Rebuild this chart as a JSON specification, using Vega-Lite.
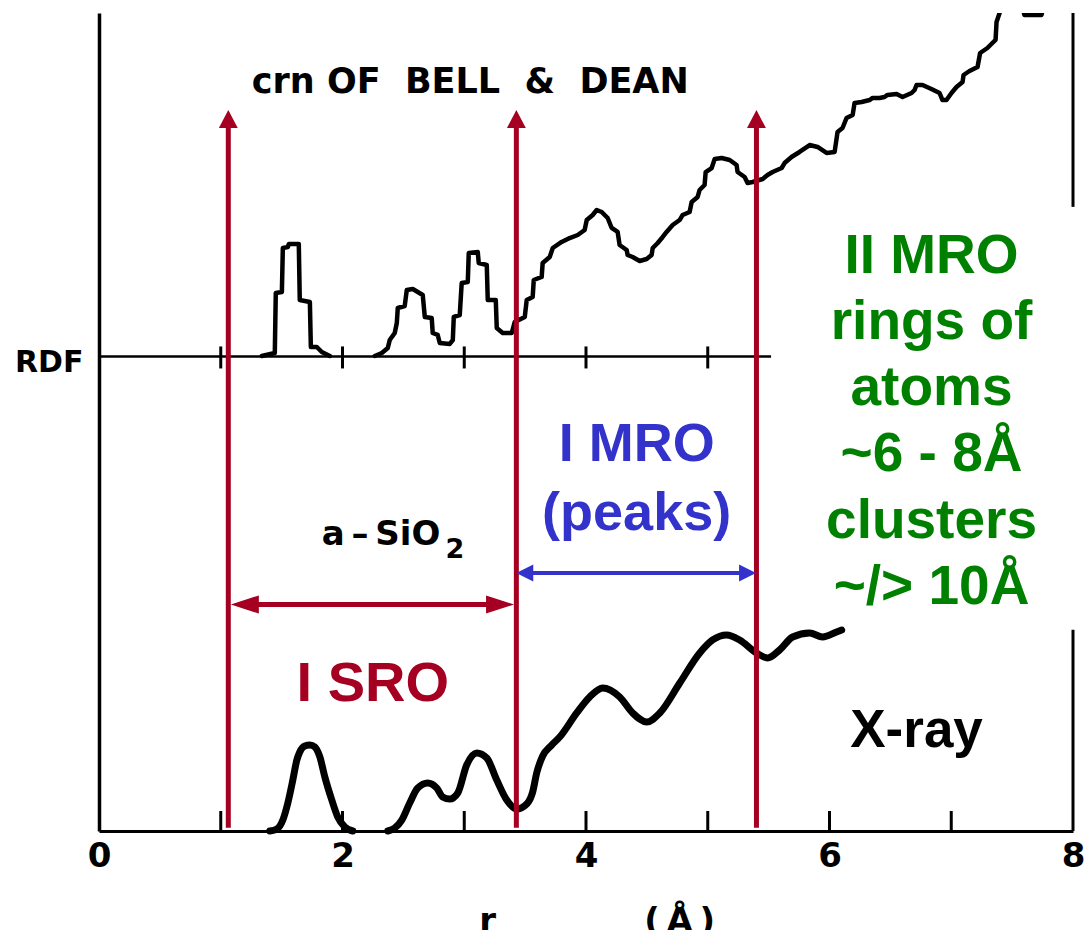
{
  "$schema": "https://vega.github.io/schema/vega-lite/v6.json",
  "width": 974,
  "height": 818,
  "autosize": "none",
  "padding": {"left": 99, "top": 13, "right": 13, "bottom": 99},
  "background": "white",
  "config": {"view": {"stroke": null}},
  "datasets": {
    "xray": [
      {"s": "a", "r": 1.403, "v": 0}, {"s": "a", "r": 1.461, "v": 0.24}, {"s": "a", "r": 1.510, "v": 1.34},
      {"s": "a", "r": 1.551, "v": 3.42}, {"s": "a", "r": 1.592, "v": 6.23}, {"s": "a", "r": 1.625, "v": 8.68},
      {"s": "a", "r": 1.649, "v": 9.66}, {"s": "a", "r": 1.690, "v": 10.39}, {"s": "a", "r": 1.732, "v": 10.51},
      {"s": "a", "r": 1.773, "v": 10.27}, {"s": "a", "r": 1.814, "v": 9.05}, {"s": "a", "r": 1.855, "v": 6.60},
      {"s": "a", "r": 1.912, "v": 3.79}, {"s": "a", "r": 1.961, "v": 1.71}, {"s": "a", "r": 2.019, "v": 0.49},
      {"s": "a", "r": 2.085, "v": 0},
      {"s": "b", "r": 2.372, "v": 0}, {"s": "b", "r": 2.429, "v": 0.37}, {"s": "b", "r": 2.487, "v": 1.34},
      {"s": "b", "r": 2.552, "v": 3.42}, {"s": "b", "r": 2.618, "v": 5.26}, {"s": "b", "r": 2.700, "v": 5.87},
      {"s": "b", "r": 2.774, "v": 5.26}, {"s": "b", "r": 2.823, "v": 4.16}, {"s": "b", "r": 2.881, "v": 3.91},
      {"s": "b", "r": 2.947, "v": 4.65}, {"s": "b", "r": 3.020, "v": 8.07}, {"s": "b", "r": 3.103, "v": 9.54},
      {"s": "b", "r": 3.185, "v": 8.92}, {"s": "b", "r": 3.267, "v": 6.23}, {"s": "b", "r": 3.349, "v": 3.79},
      {"s": "b", "r": 3.431, "v": 2.69}, {"s": "b", "r": 3.513, "v": 3.30}, {"s": "b", "r": 3.562, "v": 4.77},
      {"s": "b", "r": 3.595, "v": 7.09}, {"s": "b", "r": 3.644, "v": 9.17}, {"s": "b", "r": 3.718, "v": 10.51},
      {"s": "b", "r": 3.784, "v": 11.49}, {"s": "b", "r": 3.924, "v": 14.43}, {"s": "b", "r": 4.030, "v": 16.38},
      {"s": "b", "r": 4.137, "v": 17.48}, {"s": "b", "r": 4.277, "v": 16.38}, {"s": "b", "r": 4.383, "v": 14.43},
      {"s": "b", "r": 4.499, "v": 13.33}, {"s": "b", "r": 4.606, "v": 14.43}, {"s": "b", "r": 4.770, "v": 18.09},
      {"s": "b", "r": 4.934, "v": 21.76}, {"s": "b", "r": 5.040, "v": 23.35}, {"s": "b", "r": 5.155, "v": 23.96},
      {"s": "b", "r": 5.262, "v": 23.35}, {"s": "b", "r": 5.401, "v": 21.76}, {"s": "b", "r": 5.492, "v": 21.15},
      {"s": "b", "r": 5.590, "v": 22.13}, {"s": "b", "r": 5.697, "v": 23.72}, {"s": "b", "r": 5.837, "v": 24.21},
      {"s": "b", "r": 5.943, "v": 23.72}, {"s": "b", "r": 6.058, "v": 24.33}, {"s": "b", "r": 6.100, "v": 24.57}
    ],
    "rdf": [
      {"s": "a", "r": 1.337, "v": 58.07}, {"s": "a", "r": 1.444, "v": 58.44}, {"s": "a", "r": 1.452, "v": 65.77},
      {"s": "a", "r": 1.502, "v": 65.89}, {"s": "a", "r": 1.510, "v": 71.27}, {"s": "a", "r": 1.551, "v": 71.39},
      {"s": "a", "r": 1.559, "v": 71.76}, {"s": "a", "r": 1.641, "v": 71.76}, {"s": "a", "r": 1.649, "v": 64.91},
      {"s": "a", "r": 1.732, "v": 64.67}, {"s": "a", "r": 1.740, "v": 59.17}, {"s": "a", "r": 1.789, "v": 59.17},
      {"s": "a", "r": 1.830, "v": 58.56}, {"s": "a", "r": 1.896, "v": 58.07},
      {"s": "b", "r": 2.265, "v": 58.07}, {"s": "b", "r": 2.323, "v": 58.44}, {"s": "b", "r": 2.372, "v": 59.05},
      {"s": "b", "r": 2.388, "v": 60.02}, {"s": "b", "r": 2.429, "v": 60.88}, {"s": "b", "r": 2.446, "v": 62.10},
      {"s": "b", "r": 2.454, "v": 63.94}, {"s": "b", "r": 2.511, "v": 64.18}, {"s": "b", "r": 2.528, "v": 66.14},
      {"s": "b", "r": 2.577, "v": 66.26}, {"s": "b", "r": 2.618, "v": 65.89}, {"s": "b", "r": 2.659, "v": 65.53},
      {"s": "b", "r": 2.676, "v": 62.84}, {"s": "b", "r": 2.733, "v": 62.71}, {"s": "b", "r": 2.741, "v": 60.88},
      {"s": "b", "r": 2.782, "v": 60.64}, {"s": "b", "r": 2.799, "v": 59.66}, {"s": "b", "r": 2.881, "v": 59.54},
      {"s": "b", "r": 2.906, "v": 60.02}, {"s": "b", "r": 2.914, "v": 62.84}, {"s": "b", "r": 2.963, "v": 63.08},
      {"s": "b", "r": 2.979, "v": 66.99}, {"s": "b", "r": 3.029, "v": 67.12}, {"s": "b", "r": 3.037, "v": 70.66},
      {"s": "b", "r": 3.111, "v": 70.78}, {"s": "b", "r": 3.119, "v": 69.44}, {"s": "b", "r": 3.185, "v": 69.19},
      {"s": "b", "r": 3.193, "v": 64.91}, {"s": "b", "r": 3.259, "v": 64.91}, {"s": "b", "r": 3.267, "v": 61.49},
      {"s": "b", "r": 3.316, "v": 60.88}, {"s": "b", "r": 3.390, "v": 60.88}, {"s": "b", "r": 3.415, "v": 62.23},
      {"s": "b", "r": 3.497, "v": 62.84}, {"s": "b", "r": 3.513, "v": 64.91}, {"s": "b", "r": 3.562, "v": 65.28},
      {"s": "b", "r": 3.571, "v": 67.36}, {"s": "b", "r": 3.636, "v": 67.73}, {"s": "b", "r": 3.644, "v": 69.44},
      {"s": "b", "r": 3.702, "v": 70.17}, {"s": "b", "r": 3.727, "v": 71.27}, {"s": "b", "r": 3.800, "v": 72.01},
      {"s": "b", "r": 3.866, "v": 72.49}, {"s": "b", "r": 3.932, "v": 72.86}, {"s": "b", "r": 3.989, "v": 73.47},
      {"s": "b", "r": 4.006, "v": 74.69}, {"s": "b", "r": 4.055, "v": 75.31}, {"s": "b", "r": 4.088, "v": 75.92},
      {"s": "b", "r": 4.129, "v": 75.67}, {"s": "b", "r": 4.178, "v": 74.94}, {"s": "b", "r": 4.211, "v": 73.72},
      {"s": "b", "r": 4.260, "v": 73.23}, {"s": "b", "r": 4.276, "v": 71.64}, {"s": "b", "r": 4.334, "v": 71.03},
      {"s": "b", "r": 4.342, "v": 70.42}, {"s": "b", "r": 4.383, "v": 70.17}, {"s": "b", "r": 4.441, "v": 69.68},
      {"s": "b", "r": 4.498, "v": 69.93}, {"s": "b", "r": 4.539, "v": 70.42}, {"s": "b", "r": 4.548, "v": 71.27},
      {"s": "b", "r": 4.589, "v": 71.88}, {"s": "b", "r": 4.630, "v": 72.62}, {"s": "b", "r": 4.662, "v": 73.23},
      {"s": "b", "r": 4.712, "v": 74.08}, {"s": "b", "r": 4.769, "v": 74.69}, {"s": "b", "r": 4.794, "v": 75.31},
      {"s": "b", "r": 4.851, "v": 75.67}, {"s": "b", "r": 4.868, "v": 76.90}, {"s": "b", "r": 4.917, "v": 77.51},
      {"s": "b", "r": 4.933, "v": 78.36}, {"s": "b", "r": 4.974, "v": 78.97}, {"s": "b", "r": 4.983, "v": 80.56},
      {"s": "b", "r": 5.032, "v": 81.05}, {"s": "b", "r": 5.057, "v": 82.15}, {"s": "b", "r": 5.114, "v": 82.27},
      {"s": "b", "r": 5.180, "v": 82.03}, {"s": "b", "r": 5.237, "v": 81.42}, {"s": "b", "r": 5.245, "v": 80.56},
      {"s": "b", "r": 5.303, "v": 79.95}, {"s": "b", "r": 5.327, "v": 79.22}, {"s": "b", "r": 5.369, "v": 79.34},
      {"s": "b", "r": 5.451, "v": 79.71}, {"s": "b", "r": 5.491, "v": 80.20}, {"s": "b", "r": 5.533, "v": 80.56},
      {"s": "b", "r": 5.607, "v": 81.05}, {"s": "b", "r": 5.631, "v": 81.66}, {"s": "b", "r": 5.688, "v": 82.40},
      {"s": "b", "r": 5.754, "v": 83.01}, {"s": "b", "r": 5.837, "v": 83.86}, {"s": "b", "r": 5.902, "v": 83.62},
      {"s": "b", "r": 5.976, "v": 82.89}, {"s": "b", "r": 6.042, "v": 83.01}, {"s": "b", "r": 6.066, "v": 85.45},
      {"s": "b", "r": 6.107, "v": 85.94}, {"s": "b", "r": 6.140, "v": 87.16}, {"s": "b", "r": 6.190, "v": 87.53},
      {"s": "b", "r": 6.206, "v": 89.00}, {"s": "b", "r": 6.264, "v": 89.12}, {"s": "b", "r": 6.329, "v": 89.36},
      {"s": "b", "r": 6.354, "v": 89.61}, {"s": "b", "r": 6.411, "v": 89.61}, {"s": "b", "r": 6.452, "v": 89.73},
      {"s": "b", "r": 6.476, "v": 89.98}, {"s": "b", "r": 6.551, "v": 90.10}, {"s": "b", "r": 6.600, "v": 89.73},
      {"s": "b", "r": 6.674, "v": 90.22}, {"s": "b", "r": 6.699, "v": 90.59}, {"s": "b", "r": 6.715, "v": 91.20},
      {"s": "b", "r": 6.764, "v": 91.20}, {"s": "b", "r": 6.837, "v": 90.71}, {"s": "b", "r": 6.904, "v": 90.22},
      {"s": "b", "r": 6.928, "v": 89.36}, {"s": "b", "r": 6.961, "v": 89.36}, {"s": "b", "r": 7.002, "v": 90.22},
      {"s": "b", "r": 7.043, "v": 90.95}, {"s": "b", "r": 7.093, "v": 91.57}, {"s": "b", "r": 7.101, "v": 92.42},
      {"s": "b", "r": 7.150, "v": 92.91}, {"s": "b", "r": 7.216, "v": 93.40}, {"s": "b", "r": 7.237, "v": 95.11},
      {"s": "b", "r": 7.297, "v": 95.72}, {"s": "b", "r": 7.338, "v": 96.33}, {"s": "b", "r": 7.364, "v": 96.70},
      {"s": "b", "r": 7.372, "v": 98.90}, {"s": "b", "r": 7.397, "v": 100.0}, {"s": "b", "r": 7.462, "v": 102.8},
      {"s": "b", "r": 7.531, "v": 104.0}, {"s": "b", "r": 7.601, "v": 99.76}, {"s": "b", "r": 7.741, "v": 99.76},
      {"s": "b", "r": 7.809, "v": 104.0}
    ]
  },
  "encoding": {
    "x": {
      "field": "r", "type": "quantitative",
      "scale": {"domain": [0, 8], "nice": false, "zero": false},
      "axis": {"values": [0, 2, 4, 6, 8], "format": "d", "title": null, "grid": false, "ticks": false,
               "domain": true, "domainColor": "black", "domainWidth": 3,
               "labelFont": "DejaVu Sans", "labelFontWeight": "bold", "labelFontSize": 34, "labelColor": "black",
               "labelPadding": 8, "labelFlush": false, "labelOverlap": false, "labelBound": false}
    },
    "y": {
      "field": "v", "type": "quantitative",
      "scale": {"domain": [0, 100], "nice": false, "zero": false},
      "axis": {"title": null, "grid": false, "ticks": false, "labels": false,
               "domain": true, "domainColor": "black", "domainWidth": 3.5}
    }
  },
  "layer": [
    {
      "data": {"name": "xray"},
      "mark": {"type": "line", "color": "black", "strokeWidth": 7, "interpolate": "monotone", "strokeCap": "round", "strokeJoin": "round"},
      "encoding": {"detail": {"field": "s"}}
    },
    {
      "data": {"values": [{"r": 0, "r2": 5.52, "v": 58.0}]},
      "mark": {"type": "rule", "color": "black", "strokeWidth": 2.5},
      "encoding": {"x2": {"field": "r2"}}
    },
    {
      "data": {"values": [{"r": 1, "v": 57.89}, {"r": 2, "v": 57.89}, {"r": 3, "v": 57.89}, {"r": 4, "v": 57.89}, {"r": 5, "v": 57.89}]},
      "mark": {"type": "tick", "orient": "vertical", "size": 22, "thickness": 3, "color": "black", "opacity": 1}
    },
    {
      "data": {"values": [{"r": 1, "v": 1.22}, {"r": 2, "v": 1.22}, {"r": 3, "v": 1.22}, {"r": 4, "v": 1.22}, {"r": 5, "v": 1.22}, {"r": 6, "v": 1.22}, {"r": 7, "v": 1.22}]},
      "mark": {"type": "tick", "orient": "vertical", "size": 20, "thickness": 3, "color": "black", "opacity": 1}
    },
    {
      "data": {"values": [{"r": 8, "v": 0, "v2": 24.6}, {"r": 8, "v": 76.3, "v2": 100}]},
      "mark": {"type": "rule", "color": "black", "strokeWidth": 3},
      "encoding": {"y2": {"field": "v2"}}
    },
    {
      "data": {"name": "rdf"},
      "mark": {"type": "line", "color": "black", "strokeWidth": 4.5, "clip": true, "strokeJoin": "round", "strokeCap": "round"},
      "encoding": {"detail": {"field": "s"}}
    },
    {
      "data": {"values": [{"t": "crn OF\u00a0 BELL\u00a0 &\u00a0 DEAN", "r": 1.255, "v": 90.22}]},
      "mark": {"type": "text", "font": "DejaVu Sans", "fontWeight": "bold", "fontSize": 35, "color": "black", "align": "left", "baseline": "alphabetic"},
      "encoding": {"text": {"field": "t"}}
    },
    {
      "data": {"values": [{"t": "RDF", "r": -0.69, "v": 56.11}]},
      "mark": {"type": "text", "font": "DejaVu Sans", "fontWeight": "bold", "fontSize": 30, "color": "black", "align": "left", "baseline": "alphabetic"},
      "encoding": {"text": {"field": "t"}}
    },
    {
      "data": {"values": [{"t": "a\u2009\u2013\u2009SiO", "r": 1.83, "v": 35.0}]},
      "mark": {"type": "text", "font": "DejaVu Sans", "fontWeight": "bold", "fontSize": 34, "color": "black", "align": "left", "baseline": "alphabetic"},
      "encoding": {"text": {"field": "t"}}
    },
    {
      "data": {"values": [{"t": "2", "r": 2.845, "v": 33.37}]},
      "mark": {"type": "text", "font": "DejaVu Sans", "fontWeight": "bold", "fontSize": 27, "color": "black", "align": "left", "baseline": "alphabetic"},
      "encoding": {"text": {"field": "t"}}
    },
    {
      "data": {"values": [{"t": "r", "r": 3.193, "v": -12.4}, {"t": "(\u2009\u00c5\u2009)", "r": 4.769, "v": -12.4}]},
      "mark": {"type": "text", "font": "DejaVu Sans", "fontWeight": "bold", "fontSize": 34, "color": "black", "align": "center", "baseline": "alphabetic"},
      "encoding": {"text": {"field": "t"}}
    },
    {
      "data": {"values": [{"t": "I SRO", "r": 2.249, "v": 15.89}]},
      "mark": {"type": "text", "font": "Liberation Sans", "fontWeight": "bold", "fontSize": 56, "color": "#A50021", "align": "center", "baseline": "alphabetic"},
      "encoding": {"text": {"field": "t"}}
    },
    {
      "data": {"values": [{"t": "I MRO", "r": 4.416, "v": 45.23}, {"t": "(peaks)", "r": 4.416, "v": 36.8}]},
      "mark": {"type": "text", "font": "Liberation Sans", "fontWeight": "bold", "fontSize": 54, "color": "#3333CC", "align": "center", "baseline": "alphabetic"},
      "encoding": {"text": {"field": "t"}}
    },
    {
      "data": {"values": [
        {"t": "II MRO", "r": 6.838, "v": 68.22},
        {"t": "rings of", "r": 6.838, "v": 60.15},
        {"t": "atoms", "r": 6.838, "v": 52.08},
        {"t": "~6 - 8\u00c5", "r": 6.838, "v": 44.01},
        {"t": "clusters", "r": 6.838, "v": 35.82},
        {"t": "~/> 10\u00c5", "r": 6.838, "v": 27.75}
      ]},
      "mark": {"type": "text", "font": "Liberation Sans", "fontWeight": "bold", "fontSize": 55, "color": "#008000", "align": "center", "baseline": "alphabetic"},
      "encoding": {"text": {"field": "t"}}
    },
    {
      "data": {"values": [{"t": "X-ray", "r": 6.715, "v": 10.33}]},
      "mark": {"type": "text", "font": "Liberation Sans", "fontWeight": "bold", "fontSize": 53, "color": "black", "align": "center", "baseline": "alphabetic"},
      "encoding": {"text": {"field": "t"}}
    },
    {
      "data": {"values": [{"r": 1.062, "v": 0.4, "v2": 86.3}, {"r": 3.428, "v": 0.4, "v2": 86.3}, {"r": 5.40, "v": 0.4, "v2": 86.3}]},
      "mark": {"type": "rule", "color": "#A50021", "strokeWidth": 5},
      "encoding": {"y2": {"field": "v2"}}
    },
    {
      "data": {"values": [{"r": 1.062, "v": 87.04}, {"r": 3.428, "v": 87.04}, {"r": 5.40, "v": 87.04}]},
      "mark": {"type": "point", "shape": "M0,-1L-1.05,1L1.05,1Z", "size": 324, "filled": true, "color": "#A50021", "opacity": 1, "strokeWidth": 0}
    },
    {
      "data": {"values": [{"r": 1.2, "r2": 3.29, "v": 27.69}]},
      "mark": {"type": "rule", "color": "#A50021", "strokeWidth": 5},
      "encoding": {"x2": {"field": "r2"}}
    },
    {
      "data": {"values": [{"r": 1.198, "v": 27.69}]},
      "mark": {"type": "point", "shape": "M-1,0L1,-0.65L1,0.65Z", "size": 784, "filled": true, "color": "#A50021", "opacity": 1, "strokeWidth": 0}
    },
    {
      "data": {"values": [{"r": 3.294, "v": 27.69}]},
      "mark": {"type": "point", "shape": "M1,0L-1,-0.65L-1,0.65Z", "size": 784, "filled": true, "color": "#A50021", "opacity": 1, "strokeWidth": 0}
    },
    {
      "data": {"values": [{"r": 3.5, "r2": 5.33, "v": 31.54}]},
      "mark": {"type": "rule", "color": "#3333CC", "strokeWidth": 4},
      "encoding": {"x2": {"field": "r2"}}
    },
    {
      "data": {"values": [{"r": 3.497, "v": 31.54}]},
      "mark": {"type": "point", "shape": "M-1,0L1,-1L1,1Z", "size": 289, "filled": true, "color": "#3333CC", "opacity": 1, "strokeWidth": 0}
    },
    {
      "data": {"values": [{"r": 5.327, "v": 31.54}]},
      "mark": {"type": "point", "shape": "M1,0L-1,-1L-1,1Z", "size": 289, "filled": true, "color": "#3333CC", "opacity": 1, "strokeWidth": 0}
    }
  ]
}
